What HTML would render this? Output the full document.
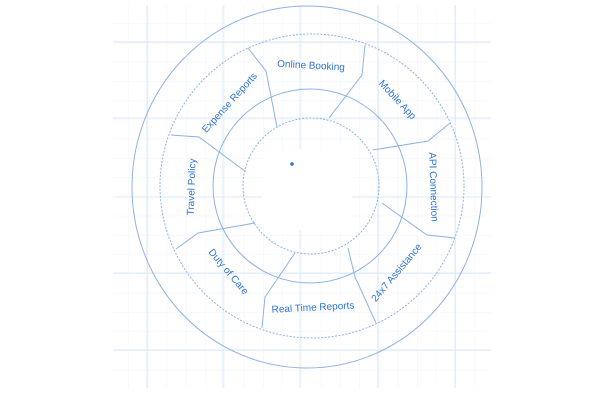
<!DOCTYPE html>
<html><head><style>
html,body{margin:0;padding:0;background:#fff;}
svg{display:block;}
text{font-family:"Liberation Sans",sans-serif;font-size:10px;fill:#2f73d6;}
</style></head><body>
<svg width="600" height="400" viewBox="0 0 600 400" xmlns="http://www.w3.org/2000/svg">
<defs>
<pattern id="minor" x="109" y="4" width="19.25" height="19.25" patternUnits="userSpaceOnUse">
<path d="M0 0V19.25M0 0H19.25" stroke="#eef4fc" stroke-width="1" fill="none"/>
</pattern>
</defs>
<rect x="113" y="5" width="378" height="383" fill="url(#minor)"/>
<g stroke="#dce8f8" stroke-width="1">
<line x1="147" y1="5" x2="147" y2="388"/><line x1="223" y1="5" x2="223" y2="388"/>
<line x1="300" y1="5" x2="300" y2="388"/><line x1="378" y1="5" x2="378" y2="388"/>
<line x1="455" y1="5" x2="455" y2="388"/>
<line x1="113" y1="42" x2="491" y2="42"/><line x1="113" y1="118" x2="491" y2="118"/>
<line x1="113" y1="197" x2="491" y2="197"/><line x1="113" y1="273" x2="491" y2="273"/>
<line x1="113" y1="350" x2="491" y2="350"/>
</g>
<rect x="262" y="150" width="90" height="80" fill="#fff"/>
<g fill="none" stroke="#8db2e6" stroke-width="1">
<ellipse cx="307" cy="187" rx="175" ry="181"/>
<circle cx="312" cy="186" r="152" stroke-dasharray="2 1.5"/>
<circle cx="310" cy="186" r="97"/>
<circle cx="311" cy="186" r="68" stroke-dasharray="2 1.5"/>
<polyline points="248,48 266,71 277,127"/>
<polyline points="365,45 362,75 329,118"/>
<polyline points="450,123 428,141 373,150"/>
<polyline points="455,238 427,235 382,203"/>
<polyline points="376,323 355,277 348,248"/>
<polyline points="262,328 265,297 295,253"/>
<polyline points="176,249 198,233 255,223"/>
<polyline points="171,135 199,137 246,172"/>
</g>
<circle cx="292" cy="164" r="1.8" fill="#2f73d6"/>
<g text-anchor="middle" dominant-baseline="middle">
<text transform="translate(311,66) rotate(3)">Online Booking</text>
<text transform="translate(397,100) rotate(47)">Mobile App</text>
<text transform="translate(433,187) rotate(88)">API Connection</text>
<text transform="translate(397,273) rotate(-50)">24x7 Assistance</text>
<text transform="translate(313,308) rotate(-3)">Real Time Reports</text>
<text transform="translate(228,272) rotate(50)">Duty of Care</text>
<text transform="translate(192,187) rotate(-88)">Travel Policy</text>
<text transform="translate(230,103) rotate(-48)">Expense Reports</text>
</g>
</svg>
</body></html>
